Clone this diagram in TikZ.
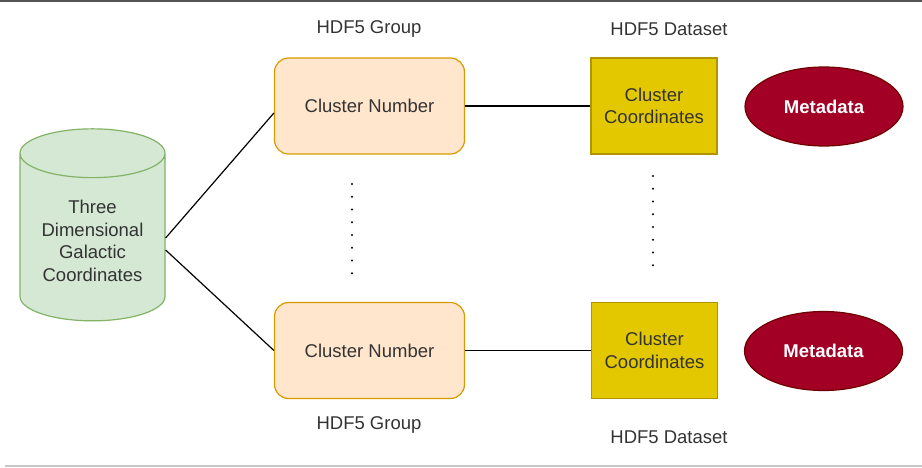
\documentclass[tikz,border=0pt]{standalone}
\usepackage{fontspec}
\setmainfont{Liberation Sans}
\usepackage{tikz}
\definecolor{textgray}{HTML}{333333}
\definecolor{dbfill}{HTML}{D5E8D4}
\definecolor{dbline}{HTML}{82B366}
\definecolor{grpfill}{HTML}{FFE6CC}
\definecolor{grpline}{HTML}{D79B00}
\definecolor{dsfill}{HTML}{E3C800}
\definecolor{dsline}{HTML}{B09500}
\definecolor{metafill}{HTML}{A20025}
\definecolor{metaline}{HTML}{6F0000}
\definecolor{framedark}{HTML}{555555}
\definecolor{framelight}{HTML}{C8C8C8}
\usetikzlibrary{shapes.geometric, positioning, calc}

\begin{document}
\begin{tikzpicture}[x=1pt, y=-1pt,
    every node/.style={font=\fontsize{18.5}{22.5}\selectfont, text=textgray},
    database/.style={cylinder, shape border rotate=90, aspect=0.45,
        draw=dbline, fill=dbfill, line width=1.2pt,
        minimum width=145pt, minimum height=192pt, align=center},
    group/.style={rectangle, rounded corners=14pt, draw=grpline, fill=grpfill,
        line width=1.2pt, minimum width=190pt, minimum height=96pt},
    dataset/.style={rectangle, draw=dsline, fill=dsfill, line width=1.2pt,
        minimum width=126pt, minimum height=96pt, align=center},
    meta/.style={ellipse, draw=metaline, fill=metafill, line width=1.2pt,
        minimum width=158pt, minimum height=79pt, text=white,
        font=\fontsize{18.5}{22.5}\selectfont\bfseries},
    link/.style={line width=1.2pt},
    vdots/.style={line width=2.4pt, line cap=round, dash pattern=on 0pt off 12.75pt}]
    \useasboundingbox (0,0) rectangle (922,468);

    % Frame lines
    \draw[framedark, line width=2pt] (0,1) -- (922,1);
    \draw[framelight, line width=1.5pt] (5,466) -- (922,466);

    % Source data
    \node[database] (coords) at (92.5,241) {Three\\Dimensional\\Galactic\\Coordinates};

    % Groups
    \node[group] (grp1) at (369.5,106) {Cluster Number};
    \node[group] (grp2) at (369.5,350.5) {Cluster Number};
    \node (grplbl1) at (369,29) {HDF5 Group};
    \node (grplbl2) at (369,425) {HDF5 Group};

    % Datasets
    \node[dataset] (ds1) at (654,106) {Cluster\\Coordinates};
    \node[dataset] (ds2) at (654.5,350.5) {Cluster\\Coordinates};
    \node (dslbl1) at (669,29) {HDF5 Dataset};
    \node (dslbl2) at (669,437) {HDF5 Dataset};

    % Attributes
    \node[meta] (meta1) at (824,106.5) {Metadata};
    \node[meta] (meta2) at (823.5,351) {Metadata};

    % Links
    \draw[link] ([yshift=3pt]coords.east) -- ([yshift=-7pt]grp1.west);
    \draw[link] ([yshift=-9pt]coords.east) -- (grp2.west);
    \draw[link] (grp1.east) -- (ds1.west);
    \draw[link] (grp2.east) -- (ds2.west);

    % Ellipsis between the rows
    \coordinate (gdots top) at (352,184);
    \coordinate (gdots bot) at (352,286);
    \coordinate (ddots top) at (653,176);
    \coordinate (ddots bot) at (653,278);
    \draw[vdots] (gdots top) -- (gdots bot);
    \draw[vdots] (ddots top) -- (ddots bot);
\end{tikzpicture}
\end{document}
